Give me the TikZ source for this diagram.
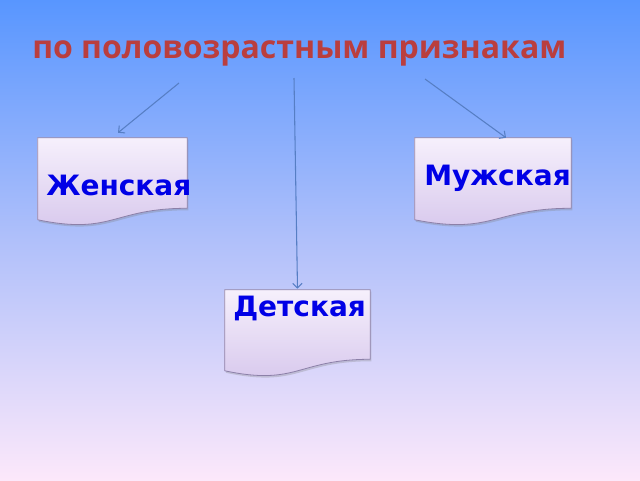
\documentclass[tikz,border=0pt]{standalone}
\usepackage{fontspec}
\setmainfont{DejaVu Sans}
\newfontfamily\titlefont{Open Sans}
\usetikzlibrary{calc,arrows.meta,shadows}

\definecolor{bgtop}{RGB}{88,150,255}
\definecolor{bgmid}{RGB}{176,192,250}
\definecolor{bgbot}{RGB}{252,232,250}
\definecolor{titlered}{RGB}{186,62,62}
\definecolor{boxtop}{RGB}{246,240,252}
\definecolor{boxbot}{RGB}{214,198,236}
\definecolor{boxline}{RGB}{140,128,168}
\definecolor{arrblue}{RGB}{86,126,196}
\definecolor{labblue}{RGB}{0,0,230}
\pgfdeclareverticalshading{bgshade}{100bp}{color(0bp)=(bgbot); color(25bp)=(bgbot); color(50bp)=(bgmid); color(75bp)=(bgtop); color(100bp)=(bgtop)}

\tikzset{
  docbox/.style={inner sep=0pt, minimum height=52.5pt},
  docfill/.style={draw=boxline, line width=0.6pt, top color=boxtop, bottom color=boxbot,
    drop shadow={shadow xshift=0.8pt, shadow yshift=-1.5pt, opacity=0.3}},
  lab/.style={inner sep=0pt, anchor=base west, text=labblue, font=\bfseries\fontsize{21}{25}\selectfont},
  arr/.style={draw=arrblue, line width=0.8pt, -{Straight Barb[length=3.5pt,width=7pt]}}
}

\begin{document}
\begin{tikzpicture}[x=0.75pt,y=0.75pt,yscale=-1,xscale=1]
\useasboundingbox (0,0) rectangle (640,480);

%Shape: Background
\fill[shading=bgshade] (0,0) rectangle (640,480);

% Title
\node[inner sep=0pt, anchor=base west, text=titlered, font=\titlefont\bfseries\fontsize{24}{29}\selectfont] (title) at (32,58) {по половозрастным признакам};

%Shape: Document boxes
\node[docbox, minimum width=111.75pt] (wom) at (112.5,173) {};
\node[docbox, minimum width=117pt] (men) at (493,173) {};
\node[docbox, minimum width=108.75pt, minimum height=51.75pt] (kid) at (297.5,324.5) {};
\foreach \n in {wom,men,kid} {
  \draw[docfill] (\n.north west) -- (\n.north east) -- (\n.south east) .. controls (\n.south) and ($(\n.south)+(0,27)$) .. ($(\n.south west)+(0,11.5)$) -- cycle;
}

% Text Node
\node[lab] (womt) at (46,195) {Женская};
% Text Node
\node[lab] (ment) at (424,185) {Мужская};
% Text Node
\node[lab] (kidt) at (233,316) {Детская};

%Straight Lines
\coordinate (a1) at (179,83);
\coordinate (a2) at (294,78);
\coordinate (a3) at (425,79);
\draw[arr] (a1) -- ($(wom.north)+(5.5,-5)$);
\draw[arr] (a2) -- ($(kid.north)+(0,-1)$);
\draw[arr] (a3) -- ($(men.north)+(13,0)$);

\end{tikzpicture}
\end{document}
